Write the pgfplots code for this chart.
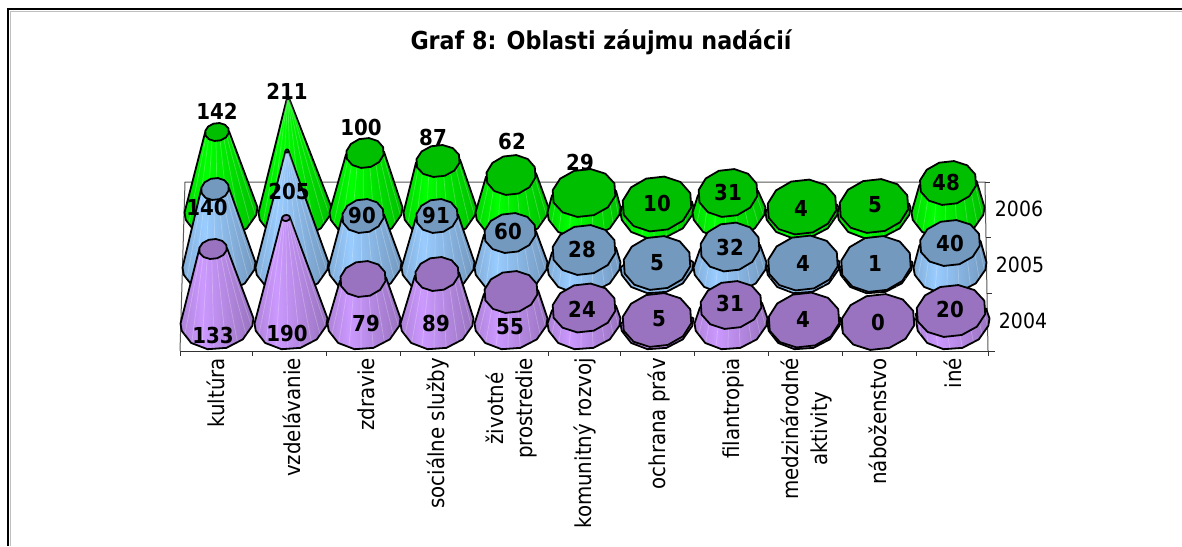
\documentclass[border=0pt]{standalone}
\usepackage{fontspec}
\setmainfont{DejaVu Sans Condensed}
\usepackage{pgfplots}
\pgfplotsset{compat=1.18}

\definecolor{pA}{HTML}{CC99FF}\definecolor{pB}{HTML}{9973BF}
\definecolor{bA}{HTML}{99CCFF}\definecolor{bB}{HTML}{7399BF}
\definecolor{gA}{HTML}{00FF00}\definecolor{gB}{HTML}{00BF00}
\pgfdeclarehorizontalshading{sidep}{100bp}{color(0bp)=(pB!60!pA); color(25bp)=(pB!60!pA); color(40bp)=(pA); color(75bp)=(pB); color(100bp)=(pB)}
\pgfdeclarehorizontalshading{sideb}{100bp}{color(0bp)=(bB!60!bA); color(25bp)=(bB!60!bA); color(40bp)=(bA); color(75bp)=(bB); color(100bp)=(bB)}
\pgfdeclarehorizontalshading{sideg}{100bp}{color(0bp)=(gB!60!gA); color(25bp)=(gB!60!gA); color(40bp)=(gA); color(75bp)=(gB); color(100bp)=(gB)}

% value labels: x y value (pixel positions)
\pgfplotstableread{
x y v
217 111 142
287 91 211
361 127 100
433 137 87
512 141 62
580 162 29
657 203 10
728 192 31
801 208 4
875 205 5
946 182 48
}\labelsC
\pgfplotstableread{
x y v
207 207 140
289 191 205
362 215 90
436 215 91
508 231 60
582 249 28
657 263 5
730 247 32
803 263 4
875 263 1
950 243 40
}\labelsB
\pgfplotstableread{
x y v
213 335 133
287 333 190
366 323 79
436 323 89
510 327 55
582 309 24
659 319 5
730 303 31
803 319 4
878 322 0
950 309 20
}\labelsA

% #1 base x, #2 base y, #3 top x, #4 top y, #5 top rx, #6 top ry, #7 side shading, #8 top colour
\newcommand{\cone}[8]{%
  \pgfmathsetmacro\px{#3+#5}\pgfmathsetmacro\py{#4-0.07*#5}%
  \xdef\coordlist{(\px,\py)}%
  \foreach \a in {0,15,45,75,105,135,165,180}{%
    \pgfmathsetmacro\px{#1+36.5*cos(\a)}%
    \pgfmathsetmacro\py{#2+28.5*sin(\a)-0.07*36.5*cos(\a)}%
    \xdef\coordlist{\coordlist (\px,\py)}%
  }%
  \pgfmathsetmacro\px{#3-#5}\pgfmathsetmacro\py{#4+0.07*#5}%
  \xdef\coordlist{\coordlist (\px,\py)}%
  \edef\temp{\noexpand\addplot[draw=black,line width=1.8pt,line join=round,shading=#7] coordinates {\coordlist} -- cycle;}\temp
  % faint facet edges on the side
  \gdef\coordlist{}%
  \foreach \a in {15,35,...,165}{%
    \pgfmathsetmacro\px{#3+#5*cos(\a)}%
    \pgfmathsetmacro\py{#4+#6*sin(\a)-0.07*#5*cos(\a)}%
    \pgfmathsetmacro\qx{#1+35.5*cos(\a)}%
    \pgfmathsetmacro\qy{#2+27*sin(\a)-0.07*36.5*cos(\a)}%
    \xdef\coordlist{\coordlist (\px,\py) (\qx,\qy) (nan,nan)}%
  }%
  \edef\temp{\noexpand\addplot[white,opacity=0.25,line width=0.7pt] coordinates {\coordlist};}\temp
  \gdef\coordlist{}%
  \foreach \a in {12,42,...,342}{%
    \pgfmathsetmacro\px{#3+#5*cos(\a)}%
    \pgfmathsetmacro\py{#4+#6*sin(\a)-0.07*#5*cos(\a)}%
    \xdef\coordlist{\coordlist (\px,\py)}%
  }%
  \edef\temp{\noexpand\addplot[draw=black,line width=1.8pt,line join=round,fill=#8] coordinates {\coordlist} -- cycle;}\temp
}

\begin{document}
\begin{tikzpicture}
\begin{axis}[
  scale only axis,
  width=1182pt,
  height=546pt,
  xmin=0,xmax=1182,
  ymin=0,ymax=546,
  y dir=reverse,
  hide axis,
  unbounded coords=jump,
  clip=true,
  valabel/.style={draw=none,mark=none,nodes near coords,point meta=explicit symbolic,
    nodes near coords style={anchor=center,inner sep=0pt,font=\fontsize{22}{26}\selectfont\bfseries,text=black}},
]
\addplot[draw=none,fill=white] coordinates {(0,0) (1182,0) (1182,546) (0,546)} -- cycle;
% chart frame (open at the bottom and right)
\addplot[black!25,line width=1pt] coordinates {(10,546) (10,11) (1182,11)};
\addplot[black,line width=2pt] coordinates {(8,546) (8,9) (1182,9)};
% plot area
\addplot[black!65,line width=1pt] coordinates {(180,351) (185,182) (985,182) (988,351)};
\addplot[black!80,line width=1pt] coordinates {(180,351) (988,351)};
\addplot[black!80,line width=1pt] coordinates {
  (180,351) (180,356) (nan,nan) (252,351) (252,356) (nan,nan) (326,351) (326,356) (nan,nan)
  (400,351) (400,356) (nan,nan) (474,351) (474,356) (nan,nan) (548,351) (548,356) (nan,nan)
  (620,351) (620,356) (nan,nan) (694,351) (694,356) (nan,nan) (768,351) (768,356) (nan,nan)
  (842,351) (842,356) (nan,nan) (916,351) (916,356) (nan,nan) (988,351) (988,356) (nan,nan)
  (985,182) (990,182) (nan,nan) (986,237) (991,237) (nan,nan) (987,293) (992,293) (nan,nan)
  (988,351) (995,351)};

% 2006
\cone{221}{210}{217}{132}{12}{9}{sideg}{gB}
\cone{295}{210}{288}{98}{1}{1}{sideg}{gB}
\cone{366}{210}{365}{153}{19}{15}{sideg}{gB}
\cone{440}{210}{438}{161}{22}{16}{sideg}{gB}
\cone{512}{210}{511}{175}{25}{20}{sideg}{gB}
\cone{584}{210}{584}{193}{32}{24}{sideg}{gB}
\cone{657}{210}{657}{204}{35}{27.5}{sideg}{gB}
\cone{729}{210}{728}{193}{30}{24}{sideg}{gB}
\cone{802}{210}{802}{207}{35}{27.5}{sideg}{gB}
\cone{874}{210}{874}{206}{35}{27}{sideg}{gB}
\cone{948}{210}{948}{183}{28.6}{22}{sideg}{gB}
% 2005
\cone{219}{265}{215}{189}{14}{11}{sideb}{bB}
\cone{292}{265}{287}{151}{1.5}{1.5}{sideb}{bB}
\cone{365}{265}{363}{216}{21}{17}{sideb}{bB}
\cone{438}{265}{437}{216}{21}{17}{sideb}{bB}
\cone{511}{265}{510}{233}{26}{20}{sideb}{bB}
\cone{584}{265}{584}{250}{32}{25}{sideb}{bB}
\cone{657}{265}{657}{263}{34}{27}{sideb}{bB}
\cone{730}{265}{730}{247}{30}{24.5}{sideb}{bB}
\cone{803}{265}{803}{263}{35.5}{27.5}{sideb}{bB}
\cone{876}{265}{876}{264}{35.5}{28}{sideb}{bB}
\cone{950}{265}{950}{243}{30.5}{23}{sideb}{bB}
% 2004
\cone{217}{321}{213}{249}{14}{10}{sidep}{pB}
\cone{291}{321}{286}{218}{4}{3}{sidep}{pB}
\cone{364}{321}{363}{279}{23}{18}{sidep}{pB}
\cone{437}{321}{437}{274}{22}{17}{sidep}{pB}
\cone{511}{321}{511}{292}{27}{21}{sidep}{pB}
\cone{584}{321}{584}{308}{32}{24.5}{sidep}{pB}
\cone{657}{321}{657}{320}{35}{27}{sidep}{pB}
\cone{731}{321}{731}{305}{31}{24}{sidep}{pB}
\cone{804}{321}{804}{320}{36}{27.5}{sidep}{pB}
\cone{878}{321}{878}{322}{37}{28}{sidep}{pB}
\cone{953}{321}{951}{311}{35}{26}{sidep}{pB}

\addplot[valabel] table[x=x,y=y,meta=v] {\labelsC};
\addplot[valabel] table[x=x,y=y,meta=v] {\labelsB};
\addplot[valabel] table[x=x,y=y,meta=v] {\labelsA};

\node[font=\fontsize{24.7}{29}\selectfont\bfseries,anchor=center] at (axis cs:601,42.5) {Graf 8: Oblasti záujmu nadácií};
\begin{scope}[every node/.style={font=\fontsize{22}{29}\selectfont,rotate=90,anchor=east,align=center,inner sep=0pt}]
\node at (axis cs:216,358) {kultúra};
\node at (axis cs:292,358) {vzdelávanie};
\node at (axis cs:366,358) {zdravie};
\node at (axis cs:438,358) {sociálne služby};
\node at (axis cs:511,358) {životné\\prostredie};
\node at (axis cs:585,358) {komunitný rozvoj};
\node at (axis cs:659,358) {ochrana práv};
\node at (axis cs:733,358) {filantropia};
\node at (axis cs:806,358) {medzinárodné\\aktivity};
\node at (axis cs:878,358) {náboženstvo};
\node at (axis cs:953,358) {iné};
\end{scope}
\begin{scope}[every node/.style={font=\fontsize{21}{25}\selectfont,anchor=center,inner sep=0pt}]
\node at (axis cs:1019,209) {2006};
\node at (axis cs:1020,265) {2005};
\node at (axis cs:1023,321) {2004};
\end{scope}
\end{axis}
\end{tikzpicture}
\end{document}
